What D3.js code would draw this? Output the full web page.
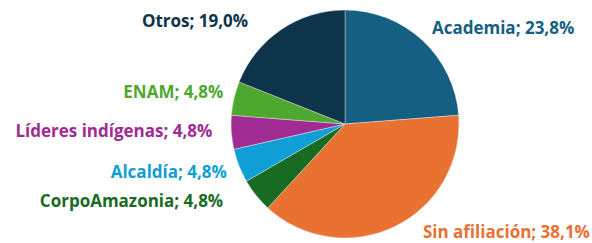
<!DOCTYPE html>
<html>
<head>
<meta charset="utf-8">
<script src="https://cdn.jsdelivr.net/npm/d3@7"></script>
<style>
  body { margin: 0; background: #fff; }
  svg { display: block; }
  text { font-family: "Open Sans", sans-serif; font-weight: 700; }
</style>
</head>
<body>
<div id="chart"></div>
<script>
const width = 592;
const height = 243;

// data
const categories = ["Academia", "Sin afiliación", "CorpoAmazonia", "Alcaldía", "Líderes indígenas", "ENAM", "Otros"];
const values = [23.8, 38.1, 4.8, 4.8, 4.8, 4.8, 19.0];
const valueLabels = ["23,8%", "38,1%", "4,8%", "4,8%", "4,8%", "4,8%", "19,0%"];
const colors = ["#155F82", "#E97132", "#196B24", "#0F9ED5", "#A02B93", "#4EA72E", "#0D344B"];

// label nudges relative to the outer arc point (layout only)
const labelNudge = [[0, 4], [22, -1], [-22, 3], [1, 7], [-5, 4], [3, 3], [-25, 9]];

const cx = 345, cy = 124, radius = 114;

const svg = d3.select("#chart")
  .append("svg")
  .attr("width", width)
  .attr("height", height);

const pie = d3.pie().sort(null).value((d) => d.value);
const arc = d3.arc().innerRadius(0).outerRadius(radius);
const labelArc = d3.arc().innerRadius(radius + 14).outerRadius(radius + 14);

const slices = pie(categories.map((c, i) => ({ name: c, value: values[i], label: valueLabels[i], i })));

const g = svg.append("g").attr("transform", `translate(${cx},${cy})`);

g.selectAll("path")
  .data(slices)
  .enter()
  .append("path")
  .attr("d", arc)
  .attr("fill", (d) => colors[d.data.i])
  .attr("stroke", "#ffffff")
  .attr("stroke-width", 0.6)
  .attr("stroke-opacity", 0.6);

g.selectAll("text")
  .data(slices)
  .enter()
  .append("text")
  .attr("x", (d) => labelArc.centroid(d)[0] + labelNudge[d.data.i][0])
  .attr("y", (d) => labelArc.centroid(d)[1] + labelNudge[d.data.i][1])
  .attr("text-anchor", (d) => ((d.startAngle + d.endAngle) / 2 < Math.PI ? "start" : "end"))
  .attr("fill", (d) => colors[d.data.i])
  .style("font-size", "17px")
  .text((d) => `${d.data.name}; ${d.data.label}`);
</script>
</body>
</html>
